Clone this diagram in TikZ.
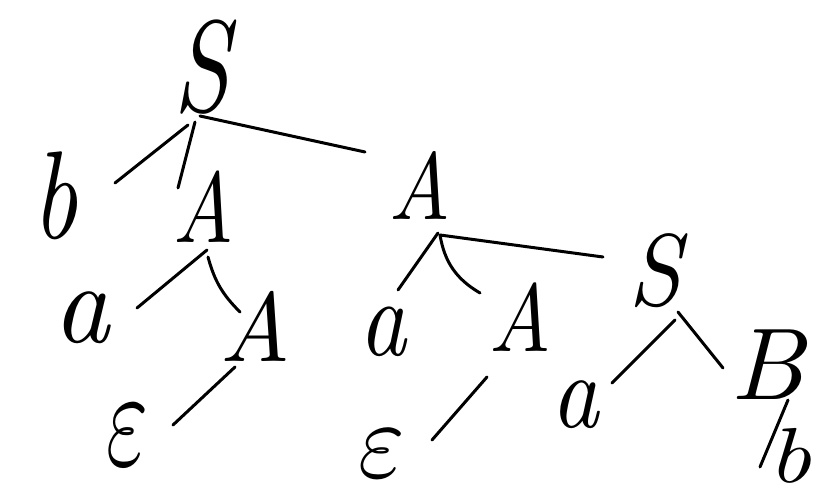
\documentclass[tikz,border=0pt]{standalone}
\begin{document}
\begin{tikzpicture}[x=1pt,y=-1pt,
  lbl/.style={font=\itshape, inner sep=0pt, anchor=center},
  edge/.style={line width=3pt, line cap=round}]
\useasboundingbox (0,0) rectangle (836,497);
% nodes
\node[lbl, xscale=10, yscale=13] (S1) at (202,67) {S};
\node[lbl, xscale=9.8, yscale=12.5] (b1) at (55,196) {b};
\node[lbl, xscale=8.3, yscale=10] (A1) at (203,207) {A};
\node[lbl, xscale=8.4, yscale=9.5] (A2) at (420,185) {A};
\node[lbl, xscale=11, yscale=11.5] (a1) at (82,318) {a};
\node[lbl, xscale=9.6, yscale=9.8] (A3) at (255,326) {A};
\node[lbl, xscale=9, yscale=14] (e1) at (127,435) {$\varepsilon$};
\node[lbl, xscale=9.2, yscale=11] (a2) at (383,332) {a};
\node[lbl, xscale=8.5, yscale=9.6] (A4) at (520,317) {A};
\node[lbl, xscale=9.4, yscale=10.2] (S2) at (655,271) {S};
\node[lbl, xscale=10, yscale=11] (e2) at (382,454) {$\varepsilon$};
\node[lbl, xscale=9.3, yscale=10.6] (a3) at (575,405) {a};
\node[lbl, xscale=10.5, yscale=10.2] (B1) at (767,365) {B};
\node[lbl, xscale=9.3, yscale=7.8] (b2) at (790,456) {b};
% connectors
\draw[edge] ([shift={(-14,58)}]S1.center) -- ([shift={(60,-13)}]b1.center);
\draw[edge] ([shift={(-7,55)}]S1.center) -- ([shift={(-25,-19)}]A1.center);
\draw[edge] ([shift={(-2,49)}]S1.center) -- ([shift={(-55,-33)}]A2.center);
\draw[edge] ([shift={(4,43)}]A1.center) -- ([shift={(55,-10)}]a1.center);
\draw[edge] ([shift={(5,50)}]A1.center) to[bend right=15] ([shift={(-15,-14)}]A3.center);
\draw[edge] ([shift={(-20,41)}]A3.center) -- ([shift={(46,-10)}]e1.center);
\draw[edge] ([shift={(18,48)}]A2.center) -- ([shift={(15,-42)}]a2.center);
\draw[edge] ([shift={(20,50)}]A2.center) to[bend right=25] ([shift={(-40,-24)}]A4.center);
\draw[edge] ([shift={(20,50)}]A2.center) -- ([shift={(-52,-14)}]S2.center);
\draw[edge] ([shift={(-33,60)}]A4.center) -- ([shift={(50,-14)}]e2.center);
\draw[edge] ([shift={(20,49)}]S2.center) -- ([shift={(37,-22)}]a3.center);
\draw[edge] ([shift={(23,41)}]S2.center) -- ([shift={(-44,3)}]B1.center);
\draw[edge] ([shift={(21,35)}]B1.center) -- ([shift={(-30,11)}]b2.center);
\end{tikzpicture}
\end{document}
